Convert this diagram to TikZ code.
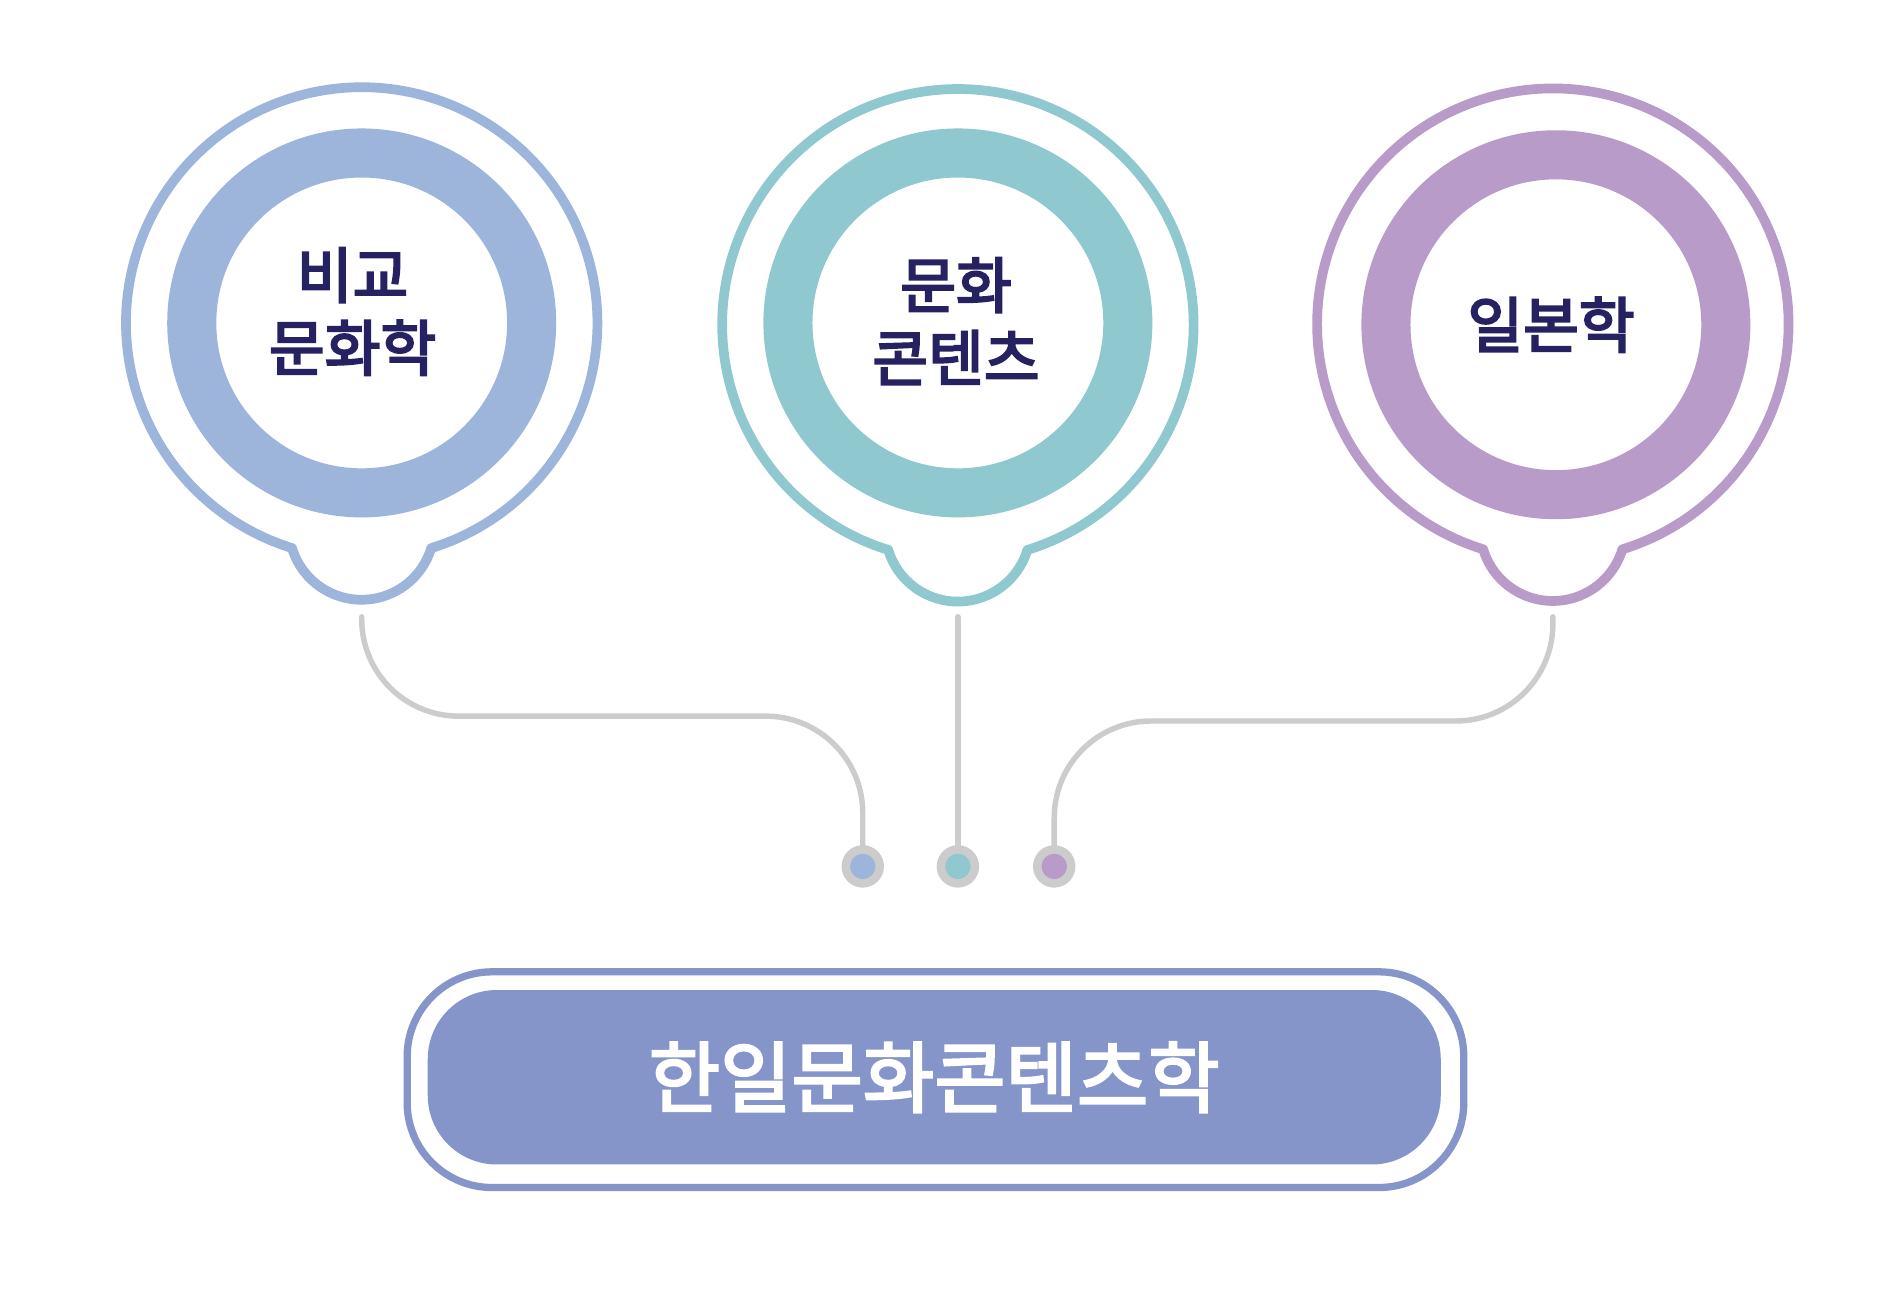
\documentclass[tikz,border=0pt]{standalone}
\usepackage{fontspec}
\newfontfamily\kr{Noto Sans CJK KR}[RawFeature={embolden=3.5}]
\newfontfamily\krt{Noto Sans CJK KR}[RawFeature={embolden=3}]
\definecolor{cblue}{HTML}{9DB4DB}
\definecolor{cteal}{HTML}{8FC8CF}
\definecolor{cpurp}{HTML}{B89BC9}
\definecolor{cbox}{HTML}{8595CA}
\definecolor{cnavy}{HTML}{262262}
\definecolor{cgray}{HTML}{CCCCCC}
\tikzset{
  lbl/.style={font=\kr\fontsize{50}{60}\selectfont, text=cnavy, align=center, inner sep=0pt},
  conn/.style={draw=cgray, line width=4.5pt, line cap=round, rounded corners=80pt},
  dot/.style={circle, draw=cgray, line width=7pt, fill=#1, minimum size=28pt, inner sep=0pt},
  bubbleline/.style={draw=#1, line width=8pt, line join=round},
  ringline/.style={draw=#1, line width=40.5pt}
}
\newcommand{\mybubble}[3]{% #1 outer center, #2 ring center, #3 color
  \draw[bubbleline=#3] ([shift={(72.8:194.5)}]#1) arc[start angle=72.8, end angle=-252.8, radius=194.5]
     arc[start angle=163.2, end angle=16.8, radius=60] -- cycle;
  \draw[ringline=#3] (#2) circle[radius=140.25];
}
\begin{document}
\begin{tikzpicture}[x=1pt,y=-1pt]
\useasboundingbox (0,0) rectangle (1568,1068);
\fill[white] (0,0) rectangle (1568,1068);

\mybubble{298.5,266.5}{298.5,266.5}{cblue}
\mybubble{790.5,268}{790.5,266.5}{cteal}
\mybubble{1281.5,267.5}{1284,268}{cpurp}

\node[lbl] (n1) at (291,257) {비교\\문화학};
\node[lbl] (n2) at (789,265) {문화\\콘텐츠};
\node[lbl] (n3) at (1280,268) {일본학};

\coordinate (t1) at (298.5,509);
\coordinate (t2) at (790.5,509);
\coordinate (t3) at (1281.5,509);
\coordinate (m1) at (500,591);
\coordinate (m3) at (1050,595);

\node[dot=cblue] (d1) at (712,715) {};
\node[dot=cteal] (d2) at (790.5,715) {};
\node[dot=cpurp] (d3) at (870,715) {};

\draw[conn] (t1) |- (m1) -| (d1);
\draw[conn] (t2) -- (d2);
\draw[conn] (t3) |- (m3) -| (d3);

\node[draw=cbox, line width=6pt, rounded corners=70pt, minimum width=872pt, minimum height=178pt, inner sep=0pt] (outerbox) at (772,891) {};
\node[fill=cbox, rounded corners=57pt, minimum width=836pt, minimum height=144pt, inner sep=0pt,
  text=white, font=\krt\fontsize{64}{72}\selectfont] (title) at (771,889) {한일문화콘텐츠학};
\end{tikzpicture}
\end{document}
